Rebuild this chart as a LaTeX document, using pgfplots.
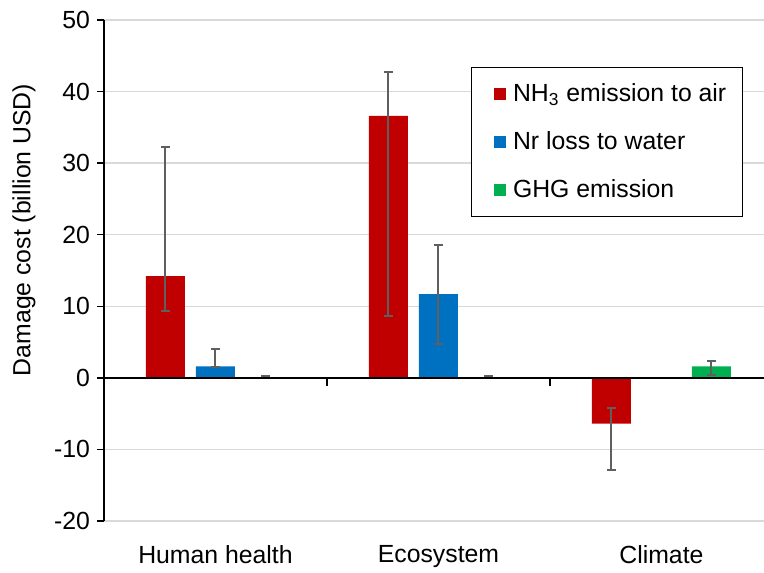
\documentclass[border=0pt]{standalone}
\usepackage{pgfplots}
\pgfplotsset{compat=1.18}
\usepackage{fontspec}
\setmainfont{Liberation Sans}
\definecolor{cred}{HTML}{C00000}
\definecolor{cblue}{HTML}{0070C0}
\definecolor{cgreen}{HTML}{00B050}
\definecolor{cgrid}{HTML}{D9D9D9}
\definecolor{cerr}{HTML}{5F5F5F}
\newcommand{\fs}{\fontsize{12.4}{14.9}\selectfont}
\begin{document}
\begin{tikzpicture}
\path[use as bounding box] (-52pt,-25.5pt) rectangle (330pt,260.5pt);
\begin{axis}[
  scale only axis,
  width=330pt, height=250.5pt,
  xmin=-0.5, xmax=2.46,
  ymin=-20, ymax=50,
  ytick={-20,-10,...,50},
  xtick={0,1,2},
  xticklabels={Human health,Ecosystem,Climate},
  axis y line*=left,
  axis x line*=bottom,
  x axis line style={draw=none},
  y axis line style={black, line width=1pt, -},
  xtick style={draw=none},
  ytick style={black, line width=0.75pt},
  tick align=outside,
  major tick length=3.5pt,
  ymajorgrids,
  grid style={cgrid, line width=0.7pt},
  /pgf/number format/assume math mode=true,
  ticklabel style={font=\fs},
  xticklabel style={yshift=-5pt},
  ylabel={Damage cost (billion USD)},
  every axis y label/.style={at={(axis description cs:-0.1212,0.581)}, rotate=90, anchor=center, font=\fs},
  ybar=5.5pt,
  bar width=19.5pt,
  clip=false,
  legend cell align=left,
  legend image code/.code={\path (-5pt,0) (7.7pt,0); \fill[#1] (0pt,-3.1pt) rectangle (6.2pt,3.1pt);},
  legend style={at={(axis description cs:0.968,0.906)}, anchor=north east,
    draw=black, line width=0.6pt, font=\fs, inner xsep=6pt, inner ysep=6pt,
    row sep=9.5pt},
  error bars/error bar style={cerr, line width=1pt},
  error bars/error mark options={rotate=90, cerr, mark size=2.1pt, line width=1pt},
]
\addplot[fill=cred, draw=none, error bars/.cd, y dir=both, y explicit] coordinates {
  (0,14.2) += (0,18.0) -= (0,4.8)
  (1,36.6) += (0,6.1) -= (0,27.9)
  (2,-6.4) += (0,2.2) -= (0,6.5)
};
\addlegendentry{NH\textsubscript{3} emission to air}
\addplot[fill=cblue, draw=none, error bars/.cd, y dir=both, y explicit] coordinates {
  (0,1.6) += (0,2.5) -= (0,0.05)
  (1,11.7) += (0,6.9) -= (0,7.0)
};
\addlegendentry{Nr loss to water}
\addplot[fill=cgreen, draw=none, error bars/.cd, y dir=both, y explicit] coordinates {
  (0,0.05) += (0,0.25) -= (0,0.0)
  (1,0.02) += (0,0.18) -= (0,0.0)
  (2,1.6) += (0,0.8) -= (0,1.2)
};
\addlegendentry{GHG emission}
\draw[black, line width=1pt] (axis cs:-0.5,0) -- (axis cs:2.46,0);
\draw[black, line width=0.75pt] (axis cs:0.5,0) -- ([yshift=-4pt]axis cs:0.5,0);
\draw[black, line width=0.75pt] (axis cs:1.5,0) -- ([yshift=-4pt]axis cs:1.5,0);
\end{axis}
\end{tikzpicture}
\end{document}
